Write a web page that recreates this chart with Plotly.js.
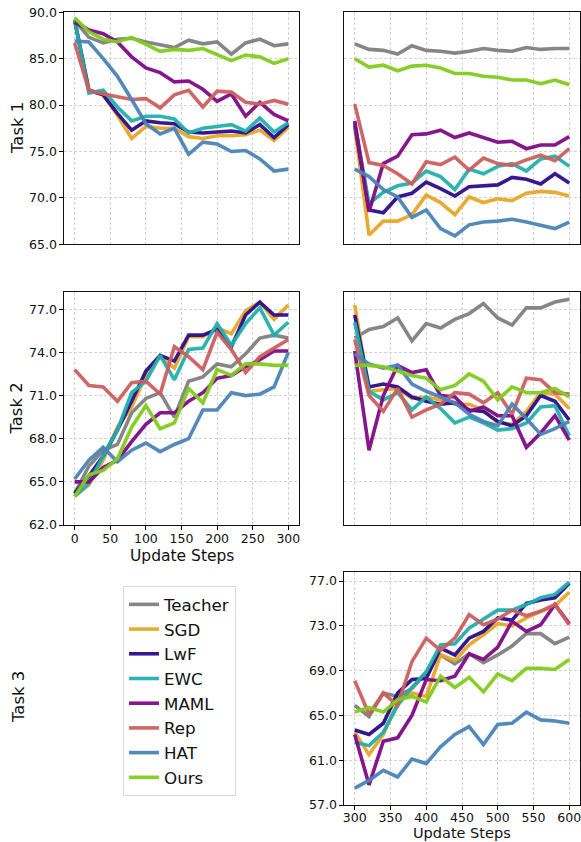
<!DOCTYPE html>
<html>
<head>
<meta charset="utf-8">
<script src="https://cdn.plot.ly/plotly-3.0.1.min.js"></script>
<style>
  html, body { margin: 0; padding: 0; background: #fff; }
  #chart { width: 581px; height: 842px; }
</style>
</head>
<body>
<div id="chart"></div>
<script>
// ---------------- data ----------------
const methods = ["Teacher", "SGD", "LwF", "EWC", "MAML", "Rep", "HAT", "Ours"];
const colors  = ["#808080", "#E8A629", "#2C0D8C", "#22AFAD", "#800A85", "#CD5F5F", "#4A84B8", "#82CC1E"];

const stepsFirst  = [0, 20, 40, 60, 80, 100, 120, 140, 160, 180, 200, 220, 240, 260, 280, 300];
const stepsSecond = [300, 320, 340, 360, 380, 400, 420, 440, 460, 480, 500, 520, 540, 560, 580, 600];

const xTicksFirst  = [0, 50, 100, 150, 200, 250, 300];
const xTicksSecond = [300, 350, 400, 450, 500, 550, 600];
const yTicksTask1 = [65, 70, 75, 80, 85, 90];
const yTicksTask2 = [62, 65, 68, 71, 74, 77];
const yTicksTask3 = [57, 61, 65, 69, 73, 77];

// Task 1, steps 0-300 (order follows `methods`)
const task1First = [
  [89.1, 87.3, 86.7, 87.1, 87.2, 86.8, 86.5, 86.2, 87.0, 86.6, 86.8, 85.5, 86.7, 87.1, 86.4, 86.6],
  [89.2, 81.6, 81.1, 78.9, 76.4, 77.7, 77.5, 77.5, 76.6, 76.4, 76.7, 76.7, 76.8, 77.3, 76.2, 77.6],
  [89.1, 81.6, 81.1, 79.1, 77.3, 78.3, 78.1, 78.0, 77.1, 77.0, 77.1, 77.2, 77.0, 77.9, 76.5, 77.9],
  [89.2, 81.3, 81.6, 79.8, 78.3, 78.8, 78.8, 78.5, 77.0, 77.5, 77.7, 77.9, 77.2, 78.6, 77.1, 78.1],
  [88.9, 88.1, 87.7, 86.8, 85.2, 84.0, 83.5, 82.5, 82.6, 81.7, 80.4, 81.2, 78.8, 80.3, 79.0, 78.3],
  [86.7, 81.6, 81.2, 80.9, 80.6, 80.7, 79.7, 81.1, 81.6, 79.8, 81.5, 81.4, 80.3, 80.1, 80.5, 80.1],
  [86.9, 86.8, 85.0, 83.1, 80.6, 78.0, 76.9, 77.5, 74.7, 76.0, 75.8, 75.0, 75.1, 74.2, 72.9, 73.1],
  [89.4, 87.9, 87.1, 86.8, 87.3, 86.6, 85.8, 86.0, 85.9, 86.1, 85.5, 84.8, 85.4, 85.2, 84.5, 85.0]
];
// Task 1, steps 300-600
const task1Second = [
  [86.6, 86.0, 85.9, 85.5, 86.4, 85.9, 85.8, 85.6, 85.8, 86.1, 85.9, 85.8, 86.2, 86.0, 86.1, 86.1],
  [77.6, 66.0, 67.5, 67.5, 68.2, 70.3, 69.5, 68.2, 70.1, 69.5, 69.9, 69.7, 70.5, 70.7, 70.6, 70.2],
  [77.9, 68.7, 68.4, 70.1, 70.5, 71.7, 71.0, 70.2, 71.2, 71.3, 71.4, 72.2, 72.0, 71.5, 72.6, 71.6],
  [78.1, 69.4, 70.6, 71.3, 71.6, 72.9, 72.3, 70.9, 73.1, 72.6, 73.4, 73.7, 72.9, 74.2, 74.5, 73.4],
  [78.3, 68.5, 73.7, 74.5, 76.8, 76.9, 77.3, 76.5, 77.0, 76.5, 76.0, 76.1, 75.3, 75.7, 75.7, 76.6],
  [80.1, 73.8, 73.5, 72.6, 71.5, 73.9, 73.6, 74.4, 73.0, 74.3, 73.7, 73.5, 74.1, 74.6, 74.0, 75.3],
  [73.1, 72.3, 70.9, 70.1, 67.9, 68.7, 66.7, 65.9, 67.1, 67.4, 67.5, 67.7, 67.4, 67.0, 66.7, 67.4],
  [85.0, 84.1, 84.3, 83.7, 84.2, 84.3, 84.0, 83.4, 83.4, 83.1, 83.0, 82.7, 82.7, 82.3, 82.7, 82.2]
];
// Task 2, steps 0-300
const task2First = [
  [64.2, 66.1, 67.2, 67.6, 69.8, 70.8, 71.2, 69.5, 72.0, 72.3, 73.2, 73.0, 73.9, 75.0, 75.2, 75.0],
  [64.0, 64.8, 66.5, 68.8, 70.2, 72.4, 73.7, 72.9, 75.1, 75.1, 75.7, 75.3, 76.9, 77.5, 76.3, 77.3],
  [64.2, 65.4, 66.8, 68.6, 70.6, 72.7, 73.8, 73.4, 75.2, 75.2, 75.6, 74.4, 76.6, 77.5, 76.6, 76.6],
  [64.0, 64.9, 66.8, 68.6, 71.2, 72.0, 73.8, 72.1, 74.2, 74.3, 76.0, 74.5, 76.0, 77.1, 75.2, 76.1],
  [65.0, 65.0, 66.0, 66.5, 67.8, 69.0, 69.8, 69.8, 70.6, 71.2, 72.2, 72.4, 73.0, 73.5, 74.1, 74.1],
  [72.8, 71.7, 71.6, 70.6, 71.9, 72.0, 71.1, 74.4, 73.7, 72.8, 75.4, 74.2, 72.6, 73.7, 74.3, 74.9],
  [65.2, 66.5, 67.4, 66.4, 67.2, 67.7, 67.1, 67.6, 68.0, 70.0, 70.0, 71.2, 71.0, 71.1, 71.6, 74.0],
  [64.0, 65.5, 65.8, 66.6, 68.8, 70.3, 68.7, 69.1, 71.5, 70.5, 72.8, 72.4, 73.2, 73.2, 73.1, 73.1]
];
// Task 2, steps 300-600
const task2Second = [
  [75.0, 75.6, 75.8, 76.4, 74.8, 76.0, 75.7, 76.3, 76.7, 77.4, 76.4, 75.9, 77.1, 77.1, 77.5, 77.7],
  [77.3, 71.3, 71.4, 71.5, 70.8, 70.9, 70.7, 70.4, 70.4, 70.0, 69.1, 69.0, 69.9, 71.2, 71.1, 70.1],
  [76.6, 71.6, 71.8, 71.6, 70.9, 70.6, 70.4, 70.5, 70.0, 69.9, 69.2, 68.9, 69.6, 71.0, 70.6, 69.3],
  [76.1, 71.3, 70.7, 71.2, 70.0, 70.9, 70.1, 69.1, 69.5, 69.1, 68.6, 68.7, 69.1, 70.2, 70.3, 68.2],
  [74.1, 67.2, 71.0, 73.1, 72.6, 72.8, 71.0, 70.9, 69.9, 70.2, 69.6, 69.6, 67.4, 68.4, 69.6, 67.9],
  [74.9, 71.0, 69.9, 71.5, 69.5, 70.0, 70.4, 71.2, 71.1, 70.5, 71.2, 69.7, 72.2, 72.1, 71.2, 71.1],
  [73.9, 73.2, 72.9, 73.1, 71.8, 71.3, 70.9, 70.5, 69.7, 69.2, 68.9, 70.4, 69.4, 68.3, 68.7, 69.2],
  [73.1, 73.1, 73.0, 72.7, 72.4, 72.2, 71.4, 71.7, 72.5, 72.0, 70.7, 71.6, 71.2, 71.2, 71.5, 70.9]
];
// Task 3, steps 300-600
const task3Second = [
  [65.9, 64.9, 67.0, 66.7, 67.4, 68.8, 70.4, 69.6, 70.5, 69.7, 70.4, 71.2, 72.3, 72.3, 71.4, 72.0],
  [63.5, 61.5, 63.3, 66.2, 67.0, 66.7, 70.4, 69.9, 71.3, 72.2, 73.2, 73.0, 73.7, 74.3, 74.8, 76.0],
  [63.7, 63.3, 64.3, 67.0, 68.2, 68.3, 71.0, 70.4, 71.9, 72.5, 73.7, 73.5, 75.0, 75.3, 75.5, 76.8],
  [62.6, 62.3, 63.5, 65.9, 67.5, 68.9, 71.3, 71.4, 72.8, 73.6, 74.4, 74.4, 74.9, 75.5, 75.8, 76.9],
  [63.3, 58.8, 62.7, 63.0, 65.0, 68.2, 68.1, 68.5, 70.5, 70.0, 71.1, 73.4, 72.5, 73.1, 74.9, 73.2],
  [68.1, 65.1, 67.0, 65.9, 69.8, 71.9, 70.8, 71.9, 74.0, 73.1, 73.6, 74.4, 73.9, 74.3, 74.9, 73.1],
  [58.5, 59.2, 60.1, 59.5, 61.1, 60.7, 62.2, 63.3, 64.0, 62.4, 64.2, 64.3, 65.3, 64.6, 64.5, 64.3],
  [65.3, 65.7, 65.3, 66.4, 66.7, 66.2, 68.5, 67.5, 68.4, 67.1, 68.7, 68.1, 69.2, 69.2, 69.1, 70.0]
];

// ---------------- build ----------------
const W = 581, H = 842;
const FONT = "DejaVu Sans, Liberation Sans, sans-serif";
const px = v => v / W;
const py = v => 1 - v / H;

const panels = [
  { xa: "x",  ya: "y",  steps: stepsFirst,  values: task1First  },
  { xa: "x2", ya: "y2", steps: stepsSecond, values: task1Second },
  { xa: "x3", ya: "y3", steps: stepsFirst,  values: task2First  },
  { xa: "x4", ya: "y4", steps: stepsSecond, values: task2Second },
  { xa: "x5", ya: "y5", steps: stepsSecond, values: task3Second }
];

const traces = [];
panels.forEach((p, pi) => {
  methods.forEach((m, mi) => {
    traces.push({
      type: "scatter", mode: "lines",
      x: p.steps, y: p.values[mi],
      xaxis: p.xa, yaxis: p.ya,
      name: m, legendgroup: m, showlegend: pi === 0,
      line: { color: colors[mi], width: 3.6 },
      opacity: 0.95,
      hoverinfo: "skip"
    });
  });
});

const colL = [px(64), px(299)];
const colR = [px(344), px(580)];
const row1 = [py(244.3), py(12.3)];
const row2 = [py(525), py(292.3)];
const row3 = [py(805), py(572.3)];

function xAxis(domain, range, ticks, labels, anchor, standoff) {
  return {
    domain: domain, range: range, anchor: anchor,
    tickmode: "array", tickvals: ticks, ticktext: ticks.map(String),
    showticklabels: labels, ticks: labels ? "outside" : "",
    ticklen: 3.5, tickwidth: 1, tickcolor: "#000",
    ticklabelstandoff: standoff, ticklabeloverflow: "allow",
    tickfont: { family: FONT, size: 12.5, color: "#111" },
    showgrid: true, gridcolor: "#d3d3d3", gridwidth: 0.8, griddash: "3px,2px",
    zeroline: false, showline: true, mirror: true, linecolor: "#111", linewidth: 1.1,
    fixedrange: true
  };
}
function yAxis(domain, range, ticks, labels, anchor) {
  return {
    domain: domain, range: range, anchor: anchor,
    tickmode: "array", tickvals: ticks, ticktext: ticks.map(t => t.toFixed(1)),
    showticklabels: labels, ticks: labels ? "outside" : "",
    ticklen: 3.5, tickwidth: 1, tickcolor: "#000",
    ticklabeloverflow: "allow",
    tickfont: { family: FONT, size: 12.5, color: "#111" },
    showgrid: true, gridcolor: "#d3d3d3", gridwidth: 0.8, griddash: "3px,2px",
    zeroline: false, showline: true, mirror: true, linecolor: "#111", linewidth: 1.1,
    fixedrange: true
  };
}

const rangeFirst = [-15, 315], rangeSecond = [285, 615];
const rangeT1 = [65, 90], rangeT2 = [62, 78.18], rangeT3 = [57, 77.78];

const annotations = [
  { text: "Task 1", x: px(17), y: py(128), textangle: -90, ya: "middle" },
  { text: "Task 2", x: px(17), y: py(408.6), textangle: -90, ya: "middle" },
  { text: "Task 3", x: px(18), y: py(697), textangle: -90, ya: "middle" },
  { text: "Update Steps", x: px(181.5), y: py(556), textangle: 0, size: 15.5, ya: "middle" },
  { text: "Update Steps", x: px(462), y: 0, textangle: 0, size: 14.5, ya: "bottom" }
].map(a => ({
  text: a.text, x: a.x, y: a.y, xref: "paper", yref: "paper",
  xanchor: "center", yanchor: a.ya, textangle: a.textangle,
  showarrow: false, borderpad: 0,
  font: { family: FONT, size: a.size || 16.5, color: "#111" }
}));

const layout = {
  width: W, height: H,
  margin: { l: 0, r: 0, t: 0, b: 0 },
  paper_bgcolor: "#fff", plot_bgcolor: "#fff",
  font: { family: FONT, color: "#111" },
  showlegend: true,
  legend: {
    x: px(123), xanchor: "left", y: py(586), yanchor: "top",
    bgcolor: "#fff", bordercolor: "#d9d9d9", borderwidth: 1,
    font: { family: FONT, size: 16.7, color: "#111" },
    traceorder: "normal", tracegroupgap: 0
  },
  xaxis:  xAxis(colL, rangeFirst,  xTicksFirst,  false, "y", -2),
  yaxis:  yAxis(row1, rangeT1, yTicksTask1, true,  "x"),
  xaxis2: xAxis(colR, rangeSecond, xTicksSecond, false, "y2", -2),
  yaxis2: yAxis(row1, rangeT1, yTicksTask1, false, "x2"),
  xaxis3: xAxis(colL, rangeFirst,  xTicksFirst,  true,  "y3", -2),
  yaxis3: yAxis(row2, rangeT2, yTicksTask2, true,  "x3"),
  xaxis4: xAxis(colR, rangeSecond, xTicksSecond, false, "y4", -2),
  yaxis4: yAxis(row2, rangeT2, yTicksTask2, false, "x4"),
  xaxis5: xAxis(colR, rangeSecond, xTicksSecond, true,  "y5", -3),
  yaxis5: yAxis(row3, rangeT3, yTicksTask3, true,  "x5"),
  annotations: annotations
};

Plotly.newPlot("chart", traces, layout, { displayModeBar: false, responsive: false });
</script>
</body>
</html>
